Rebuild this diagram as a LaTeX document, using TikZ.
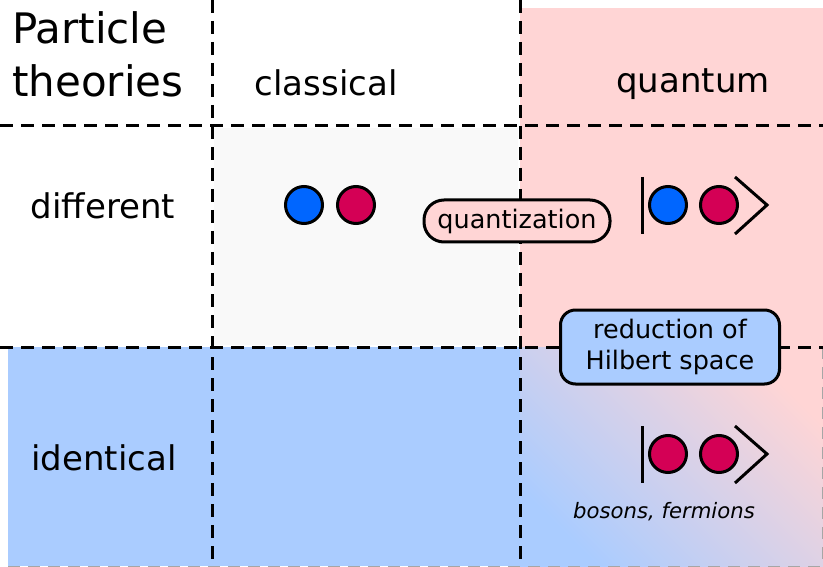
\documentclass[tikz,border=0pt]{standalone}
\usepackage{fontspec}
\setmainfont{DejaVu Sans}
\usepackage{tikz}
\usetikzlibrary{positioning}
\definecolor{QPink}{RGB}{255,213,213}
\definecolor{QBlue}{RGB}{170,204,255}
\definecolor{BallBlue}{RGB}{0,102,255}
\definecolor{BallRed}{RGB}{212,0,85}
\definecolor{CellGray}{RGB}{249,249,249}

\begin{document}
\begin{tikzpicture}[x=1pt, y=-1pt,
          hdr/.style={anchor=base, inner sep=0pt, font=\fontsize{34}{40}\selectfont},
          ball/.style={circle, draw, line width=3pt, minimum size=37pt, inner sep=0pt},
          grid/.style={line width=3pt, dash pattern=on 13pt off 8pt},
          tag/.style={draw, line width=3pt, align=center,
                      font=\fontsize{25.5}{31}\selectfont}
        ]
        \useasboundingbox (0,0) rectangle (823,567);

        % Cell backgrounds
        \fill[QPink] (520,8) rectangle (823,347);
        \fill[CellGray] (214,128) rectangle (518,345);
        \fill[QBlue] (8,347) rectangle (520,566);
        \shade[top color=QBlue, bottom color=QPink, middle color=QBlue!50!QPink,
               shading angle=135]
              (520,347) rectangle (823,566);
        \draw[gray!70, line width=1pt, dash pattern=on 12pt off 8pt]
              (8,566) -- (823,566) (822,347) -- (822,566);

        % Grid lines
        \draw[grid] (212,0) -- (212,567);
        \draw[grid] (520,0) -- (520,567);
        \draw[grid] (0,126) -- (823,126);
        \draw[grid] (0,347) -- (823,347);

        % Headers
        \node[anchor=base west, inner sep=0pt, align=left,
              font=\fontsize{42}{53}\selectfont]
              (ttl) at (12,97) {Particle\\theories};
        \node[hdr] (cls) at (326,96) {classical};
        \node[hdr] (qnt) at (693,93) {quantum};
        \node[hdr] (dif) at (103,219) {different};
        \node[hdr] (idn) at (104,470) {identical};

        % Classical, different particles
        \node[ball, fill=BallBlue] (ca) at (304,205) {};
        \node[ball, fill=BallRed]  (cb) at (356,205) {};

        % Quantum, different particles
        \node[ball, fill=BallBlue] (qa) at (668,205) {};
        \node[ball, fill=BallRed]  (qb) at (719,205) {};
        \draw[line width=3pt] (642,177) -- (642,234);
        \draw[line width=3pt] (735,177) -- (767,205) -- (735,234);

        % Quantum, identical particles
        \node[ball, fill=BallRed] (ia) at (668,454) {};
        \node[ball, fill=BallRed] (ib) at (719,454) {};
        \draw[line width=3pt] (642,426) -- (642,483);
        \draw[line width=3pt] (735,426) -- (767,454) -- (735,483);
        \node[font=\fontsize{21.2}{25}\selectfont\itshape]
              (bf) at (664,512) {bosons, fermions};

        % Transitions
        \node[tag, fill=QPink, rounded corners=20pt, minimum width=186pt,
              minimum height=42pt, inner sep=0pt] (quant) at (517,221) {quantization};
        \node[tag, fill=QBlue, rounded corners=15pt, minimum width=219pt,
              minimum height=74pt, inner sep=0pt] (redu) at (670,347)
              {reduction of\\Hilbert space};
      \end{tikzpicture}
\end{document}
